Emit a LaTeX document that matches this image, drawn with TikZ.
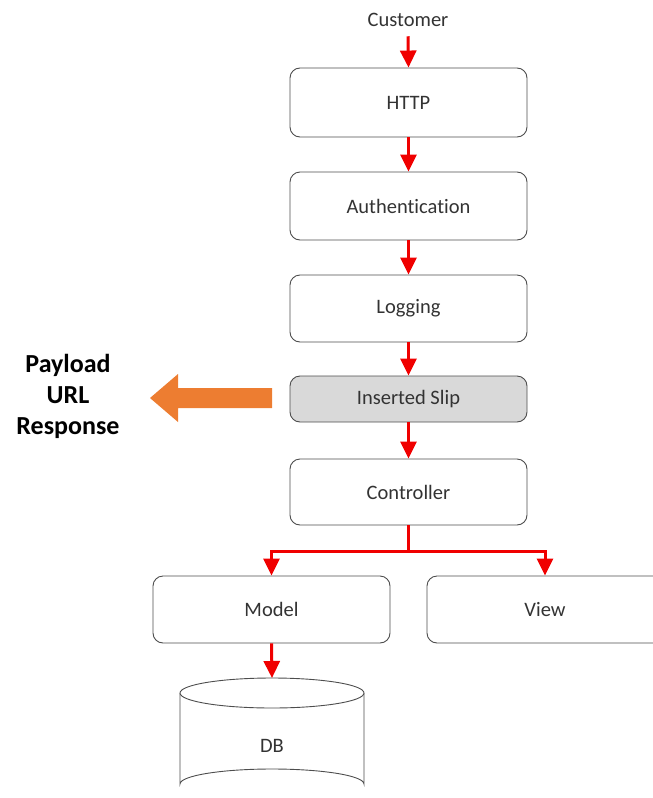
\documentclass[tikz,border=0pt]{standalone}
\usepackage{fontspec}
\setmainfont{Carlito}[Ligatures=NoCommon]
\usetikzlibrary{arrows.meta}
\definecolor{txt}{HTML}{333333}
\definecolor{edge}{HTML}{4D4D4D}
\definecolor{slipfill}{HTML}{D9D9D9}
\definecolor{redarrow}{HTML}{F00000}
\definecolor{orangearrow}{HTML}{ED7D31}
\tikzset{
  stepbox/.style={draw=edge, line width=0.9pt, rounded corners=10pt, fill=white,
    minimum width=237pt, inner sep=0pt, text=txt, font=\fontsize{20.5}{24}\selectfont},
  flow/.style={draw=redarrow, line width=3pt, -{Triangle[width=16pt,length=17pt]}},
}
\begin{document}
\begin{tikzpicture}[x=1pt,y=-1pt]
\useasboundingbox (0,0) rectangle (653,798);
\clip (0,0) rectangle (653,798);
\node[text=txt, font=\fontsize{20.5}{24}\selectfont] (customer) at (408,20) {Customer};
\node[stepbox, minimum height=69pt] (http) at (408.5,102.5) {HTTP};
\node[stepbox, minimum height=68pt] (auth) at (408.5,206) {Authentication};
\node[stepbox, minimum height=67pt] (log) at (408.5,308.5) {Logging};
\node[stepbox, minimum height=46pt, fill=slipfill] (slip) at (408.5,399) {Inserted Slip};
\node[stepbox, minimum height=66pt] (ctrl) at (408.5,492) {Controller};
\node[stepbox, minimum height=67pt] (model) at (271.5,609.5) {Model};
\node[stepbox, minimum height=67pt, minimum width=236pt] (view) at (545,609.5) {View};
% DB cylinder
\draw[edge, line width=0.9pt, fill=white] (180,693) -- (180,784) arc[start angle=180, end angle=360, x radius=92, y radius=15] -- (364,693);
\draw[edge, line width=0.9pt, fill=white] (272,693) ellipse[x radius=92, y radius=15];
\coordinate (dbtop) at (272,678);
\node[text=txt, font=\fontsize{20.5}{24}\selectfont] (db) at (272,746) {DB};
% Left labels
\node[align=center, font=\fontsize{26}{31}\selectfont\bfseries, text=black] (labels) at (68,396) {Payload\\URL\\Response};
% Orange block arrow
\fill[orangearrow] (272,388) -- (178,388) -- (178,374) -- (150,398) -- (178,422) -- (178,408) -- (272,408) -- cycle;
% Flow arrows
\draw[flow] (customer.south) ++(0,6) -- (http.north);
\draw[flow] (http) -- (auth);
\draw[flow] (auth) -- (log);
\draw[flow] (log) -- (slip);
\draw[flow] (slip) -- (ctrl);
\draw[flow] (ctrl.south) -- ++(0,26) -| (model.north);
\draw[flow] (ctrl.south) -- ++(0,26) -| (view.north);
\draw[flow] (model.south) -- (dbtop);
\end{tikzpicture}
\end{document}
